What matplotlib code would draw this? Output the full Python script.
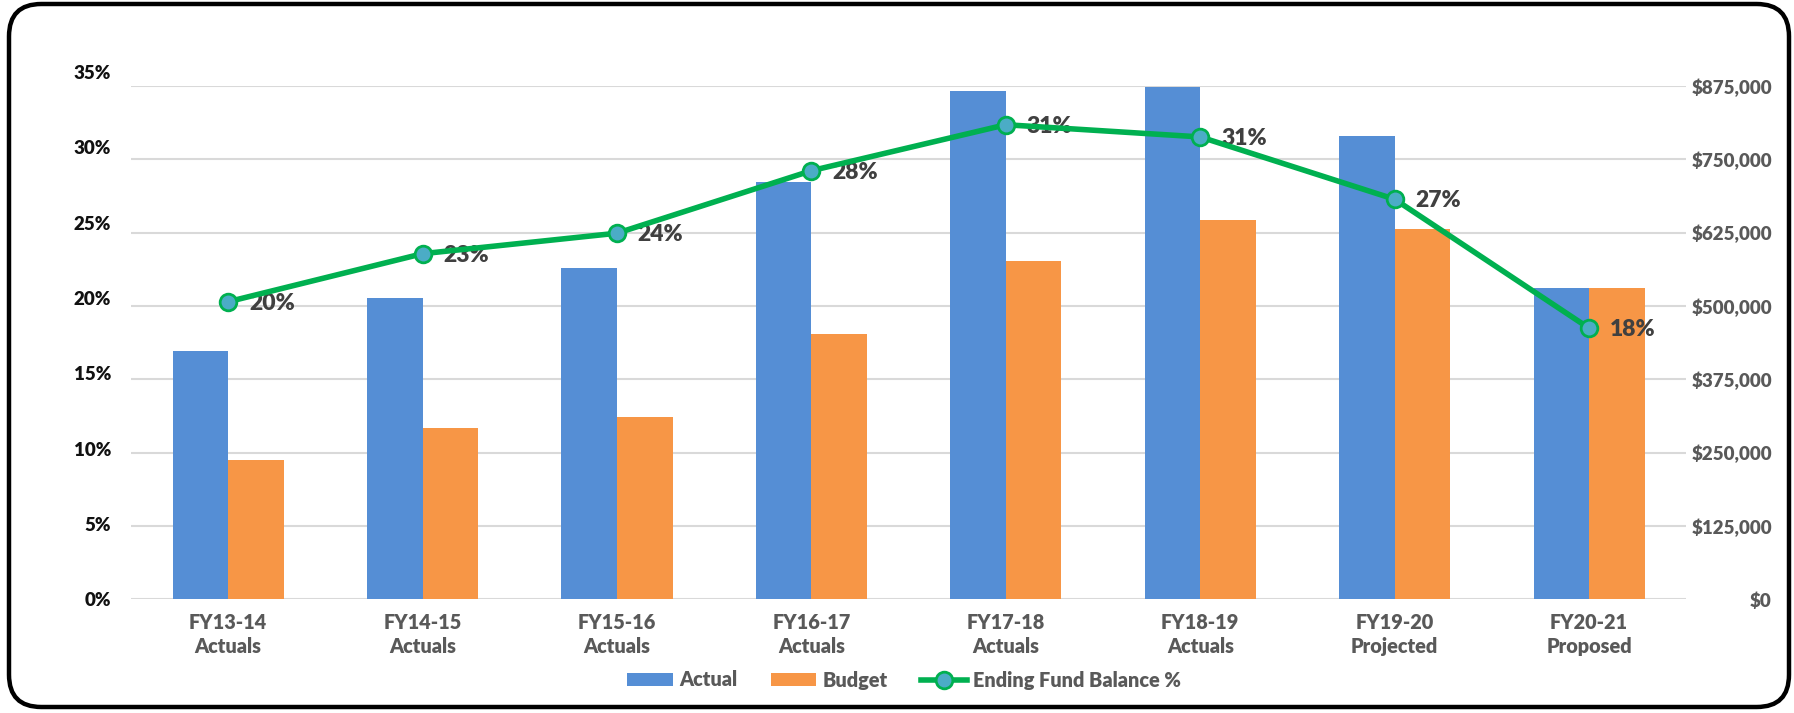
import matplotlib
matplotlib.use("Agg")
import matplotlib.pyplot as plt
from matplotlib.patches import FancyBboxPatch, Patch
from matplotlib.lines import Line2D
from matplotlib.ticker import FuncFormatter
import numpy as np

plt.rcParams['font.family'] = ['Lato', 'DejaVu Sans']
plt.rcParams['font.weight'] = 800

categories = ["FY13-14\nActuals", "FY14-15\nActuals", "FY15-16\nActuals", "FY16-17\nActuals",
              "FY17-18\nActuals", "FY18-19\nActuals", "FY19-20\nProjected", "FY20-21\nProposed"]
actual = [424000, 514000, 565000, 712000, 867000, 873000, 790000, 531000]
budget = [237000, 292000, 310000, 452000, 577000, 647000, 631000, 531000]
fund_pct = [0.1975, 0.2294, 0.2430, 0.2845, 0.3150, 0.3069, 0.2655, 0.1799]
pct_labels = ["20%", "23%", "24%", "28%", "31%", "31%", "27%", "18%"]
left_ticks = [0, 0.05, 0.10, 0.15, 0.20, 0.25, 0.30, 0.35]
right_ticks = [0, 125000, 250000, 375000, 500000, 625000, 750000, 875000]

W, H = 1794, 713
fig = plt.figure(figsize=(W / 100, H / 100), dpi=100)

# rounded border
border = FancyBboxPatch((9 / W, 6 / H), (1789 - 9) / W, (709 - 6) / H,
                        boxstyle="round,pad=0,rounding_size=0.018",
                        transform=fig.transFigure, fill=False, edgecolor='black',
                        linewidth=3.2, mutation_aspect=W / H)
fig.patches.append(border)

x0, x1 = 130.9, 1686.4
ybot = 599.3
ytop_bar = 86.0
ytop_line = 72.0

ax = fig.add_axes([x0 / W, (H - ybot) / H, (x1 - x0) / W, (ybot - ytop_bar) / H])
axl = fig.add_axes([x0 / W, (H - ybot) / H, (x1 - x0) / W, (ybot - ytop_line) / H])
axl.patch.set_alpha(0)

n = len(categories)
x = np.arange(n)
bw = 0.2855
blue = '#558ED5'
orange = '#F79646'
green = '#00B050'

ax.bar(x - bw / 2, actual, width=bw, color=blue, zorder=3, linewidth=0)
ax.bar(x + bw / 2, budget, width=bw, color=orange, zorder=3, linewidth=0)
ax.set_xlim(-0.5, n - 0.5)
ax.set_ylim(0, 875000)
ax.set_yticks(right_ticks)
ax.yaxis.set_major_formatter(FuncFormatter(lambda v, p: "${:,.0f}".format(v)))
ax.yaxis.tick_right()
ax.grid(axis='y', color='#D9D9D9', linewidth=1.5, zorder=0)
ax.set_axisbelow(True)
for s in ax.spines.values():
    s.set_visible(False)
ax.tick_params(axis='y', length=0, pad=61.5, labelsize=13.5, labelcolor='#595959')
for lbl in ax.get_yticklabels():
    lbl.set_horizontalalignment('right')
    lbl.set_fontweight(800)
ax.set_xticks(x)
ax.set_xticklabels(categories, fontsize=14.3, color='#595959', linespacing=1.3, fontweight=800)
ax.tick_params(axis='x', length=0, pad=10)

axl.plot(x, fund_pct, color=green, linewidth=4, marker='o', markersize=12,
         markerfacecolor='#4BACC6', markeredgecolor=green, markeredgewidth=2, zorder=5)
axl.set_xlim(-0.5, n - 0.5)
axl.set_ylim(0, 0.35)
axl.set_yticks(left_ticks)
axl.yaxis.set_major_formatter(FuncFormatter(lambda v, p: "{:.0f}%".format(v * 100)))
axl.tick_params(axis='y', length=0, pad=14.4, labelsize=13.5, labelcolor='#111111')
for lbl in axl.get_yticklabels():
    lbl.set_fontweight(800)
axl.set_xticks([])
for s in axl.spines.values():
    s.set_visible(False)
for xi, yi, t in zip(x, fund_pct, pct_labels):
    axl.annotate(t, (xi, yi), xytext=(15, -1), textcoords='offset points',
                 ha='left', va='center', fontsize=16.5, color='#404040', fontweight=800)

handles = [Patch(facecolor=blue, edgecolor='none'),
           Patch(facecolor=orange, edgecolor='none'),
           Line2D([0], [0], color=green, linewidth=4, marker='o', markersize=12,
                  markerfacecolor='#4BACC6', markeredgecolor=green, markeredgewidth=2)]
leg = fig.legend(handles, ["Actual", "Budget", "Ending Fund Balance %"], loc='center',
                 bbox_to_anchor=(904 / W, (H - 680) / H), ncol=3, frameon=False,
                 fontsize=14.3, labelcolor='#595959', handlelength=2.3, handletextpad=0.3,
                 columnspacing=1.7, handleheight=0.65)
for t in leg.get_texts():
    t.set_fontweight(800)

fig.savefig("out.png", dpi=100)
